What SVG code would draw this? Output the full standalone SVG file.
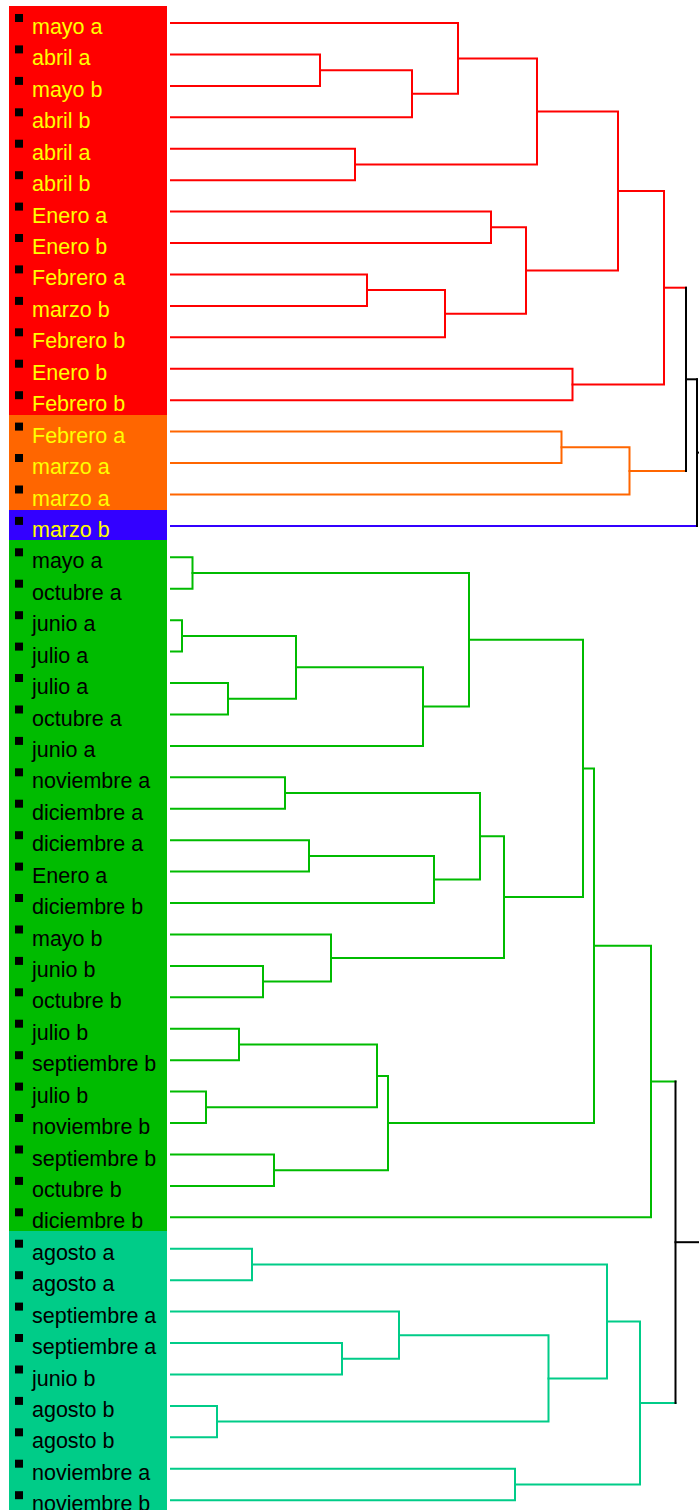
<svg xmlns="http://www.w3.org/2000/svg" width="699" height="1510" viewBox="0 0 699 1510">
<style>
.lbl{font-family:"Liberation Sans",Arial,sans-serif;font-size:21.5px}
.y{fill:#FFFF00}.k{fill:#000}
.b{fill:#000}
.c{fill:none;stroke-width:2;stroke-linejoin:miter;stroke-linecap:square}
.red{stroke:#FF0000}.org{stroke:#FF6600}.blu{stroke:#3300FF}.grn{stroke:#00BB00}.tea{stroke:#00CC88}.blk{stroke:#000}
</style>
<rect width="699" height="1510" fill="#fff"/>
<g id="panels">
<rect x="9" y="6" width="158" height="409" fill="#FF0000"/>
<rect x="9" y="415" width="158" height="95" fill="#FF6600"/>
<rect x="9" y="510" width="158" height="30" fill="#3300FF"/>
<rect x="9" y="540" width="158" height="691" fill="#00BB00"/>
<rect x="9" y="1231" width="158" height="279" fill="#00CC88"/>
</g>
<g id="connectors">
<g class="c red">
<path d="M171 54.4H320V85.9H171"/>
<path d="M320 70.2H412V117.3H171"/>
<path d="M171 23H458V93.8H412"/>
<path d="M171 148.7H355V180.2H171"/>
<path d="M458 58.4H537V164.5H355"/>
<path d="M171 211.6H491V243H171"/>
<path d="M171 274.4H367V305.9H171"/>
<path d="M367 290.1H445V337.3H171"/>
<path d="M491 227.3H526V313.7H445"/>
<path d="M537 111.4H618V270.5H526"/>
<path d="M171 368.7H572.5V400.2H171"/>
<path d="M618 191H664V384.5H572.5"/>
<path d="M664 287.7H686"/>
</g>
<g class="c org">
<path d="M171 431.6H561.5V463H171"/>
<path d="M561.5 447.3H629.5V494.5H171"/>
<path d="M629.5 470.9H686"/>
</g>
<path class="c blu" d="M171 525.9H697"/>
<g class="c blk">
<path d="M686 287.7V470.9"/>
<path d="M686 379.3H697"/>
<path d="M697 379.3V525.9"/>
<path d="M697 452.6H699"/>
</g>
<g class="c grn">
<path d="M171 557.3H192.5V588.7H171"/>
<path d="M171 620.2H182V651.6H171"/>
<path d="M171 683H228V714.5H171"/>
<path d="M182 635.9H296V698.8H228"/>
<path d="M296 667.3H423V745.9H171"/>
<path d="M192.5 573H469V706.6H423"/>
<path d="M171 777.3H285V808.7H171"/>
<path d="M171 840.2H309V871.6H171"/>
<path d="M309 855.9H434V903H171"/>
<path d="M285 793H480V879.5H434"/>
<path d="M171 965.9H263V997.3H171"/>
<path d="M171 934.5H331V981.6H263"/>
<path d="M480 836.2H504V958H331"/>
<path d="M469 639.8H583V897.1H504"/>
<path d="M171 1028.7H239V1060.2H171"/>
<path d="M171 1091.6H206V1123H171"/>
<path d="M239 1044.5H377V1107.3H206"/>
<path d="M171 1154.5H274V1185.9H171"/>
<path d="M377 1075.9H388V1170.2H274"/>
<path d="M583 768.5H594V1123H388"/>
<path d="M594 945.8H651V1217.3H171"/>
<path d="M651 1081.5H675.5"/>
</g>
<g class="c tea">
<path d="M171 1248.7H252V1280.2H171"/>
<path d="M171 1343H342V1374.5H171"/>
<path d="M171 1311.6H399V1358.8H342"/>
<path d="M171 1405.9H217V1437.3H171"/>
<path d="M399 1335.2H548.5V1421.6H217"/>
<path d="M252 1264.5H607V1378.4H548.5"/>
<path d="M171 1468.7H515V1500.2H171"/>
<path d="M607 1321.4H640V1484.5H515"/>
<path d="M640 1402.9H675.5"/>
</g>
<g class="c blk">
<path d="M675.5 1081.5V1402.9"/>
<path d="M675.5 1242.2H699"/>
</g>
</g>
<g id="leaf-0"><rect class="b" x="15" y="14" width="8" height="8"/><text class="lbl y" x="32" y="34">mayo a</text></g>
<g id="leaf-1"><rect class="b" x="15" y="45.4" width="8" height="8"/><text class="lbl y" x="32" y="65.4">abril a</text></g>
<g id="leaf-2"><rect class="b" x="15" y="76.9" width="8" height="8"/><text class="lbl y" x="32" y="96.9">mayo b</text></g>
<g id="leaf-3"><rect class="b" x="15" y="108.3" width="8" height="8"/><text class="lbl y" x="32" y="128.3">abril b</text></g>
<g id="leaf-4"><rect class="b" x="15" y="139.7" width="8" height="8"/><text class="lbl y" x="32" y="159.7">abril a</text></g>
<g id="leaf-5"><rect class="b" x="15" y="171.2" width="8" height="8"/><text class="lbl y" x="32" y="191.2">abril b</text></g>
<g id="leaf-6"><rect class="b" x="15" y="202.6" width="8" height="8"/><text class="lbl y" x="32" y="222.6">Enero a</text></g>
<g id="leaf-7"><rect class="b" x="15" y="234" width="8" height="8"/><text class="lbl y" x="32" y="254">Enero b</text></g>
<g id="leaf-8"><rect class="b" x="15" y="265.4" width="8" height="8"/><text class="lbl y" x="32" y="285.4">Febrero a</text></g>
<g id="leaf-9"><rect class="b" x="15" y="296.9" width="8" height="8"/><text class="lbl y" x="32" y="316.9">marzo b</text></g>
<g id="leaf-10"><rect class="b" x="15" y="328.3" width="8" height="8"/><text class="lbl y" x="32" y="348.3">Febrero b</text></g>
<g id="leaf-11"><rect class="b" x="15" y="359.7" width="8" height="8"/><text class="lbl y" x="32" y="379.7">Enero b</text></g>
<g id="leaf-12"><rect class="b" x="15" y="391.2" width="8" height="8"/><text class="lbl y" x="32" y="411.2">Febrero b</text></g>
<g id="leaf-13"><rect class="b" x="15" y="422.6" width="8" height="8"/><text class="lbl y" x="32" y="442.6">Febrero a</text></g>
<g id="leaf-14"><rect class="b" x="15" y="454" width="8" height="8"/><text class="lbl y" x="32" y="474">marzo a</text></g>
<g id="leaf-15"><rect class="b" x="15" y="485.5" width="8" height="8"/><text class="lbl y" x="32" y="505.5">marzo a</text></g>
<g id="leaf-16"><rect class="b" x="15" y="516.9" width="8" height="8"/><text class="lbl y" x="32" y="536.9">marzo b</text></g>
<g id="leaf-17"><rect class="b" x="15" y="548.3" width="8" height="8"/><text class="lbl k" x="32" y="568.3">mayo a</text></g>
<g id="leaf-18"><rect class="b" x="15" y="579.7" width="8" height="8"/><text class="lbl k" x="32" y="599.7">octubre a</text></g>
<g id="leaf-19"><rect class="b" x="15" y="611.2" width="8" height="8"/><text class="lbl k" x="32" y="631.2">junio a</text></g>
<g id="leaf-20"><rect class="b" x="15" y="642.6" width="8" height="8"/><text class="lbl k" x="32" y="662.6">julio a</text></g>
<g id="leaf-21"><rect class="b" x="15" y="674" width="8" height="8"/><text class="lbl k" x="32" y="694">julio a</text></g>
<g id="leaf-22"><rect class="b" x="15" y="705.5" width="8" height="8"/><text class="lbl k" x="32" y="725.5">octubre a</text></g>
<g id="leaf-23"><rect class="b" x="15" y="736.9" width="8" height="8"/><text class="lbl k" x="32" y="756.9">junio a</text></g>
<g id="leaf-24"><rect class="b" x="15" y="768.3" width="8" height="8"/><text class="lbl k" x="32" y="788.3">noviembre a</text></g>
<g id="leaf-25"><rect class="b" x="15" y="799.7" width="8" height="8"/><text class="lbl k" x="32" y="819.7">diciembre a</text></g>
<g id="leaf-26"><rect class="b" x="15" y="831.2" width="8" height="8"/><text class="lbl k" x="32" y="851.2">diciembre a</text></g>
<g id="leaf-27"><rect class="b" x="15" y="862.6" width="8" height="8"/><text class="lbl k" x="32" y="882.6">Enero a</text></g>
<g id="leaf-28"><rect class="b" x="15" y="894" width="8" height="8"/><text class="lbl k" x="32" y="914">diciembre b</text></g>
<g id="leaf-29"><rect class="b" x="15" y="925.5" width="8" height="8"/><text class="lbl k" x="32" y="945.5">mayo b</text></g>
<g id="leaf-30"><rect class="b" x="15" y="956.9" width="8" height="8"/><text class="lbl k" x="32" y="976.9">junio b</text></g>
<g id="leaf-31"><rect class="b" x="15" y="988.3" width="8" height="8"/><text class="lbl k" x="32" y="1008.3">octubre b</text></g>
<g id="leaf-32"><rect class="b" x="15" y="1019.7" width="8" height="8"/><text class="lbl k" x="32" y="1039.7">julio b</text></g>
<g id="leaf-33"><rect class="b" x="15" y="1051.2" width="8" height="8"/><text class="lbl k" x="32" y="1071.2">septiembre b</text></g>
<g id="leaf-34"><rect class="b" x="15" y="1082.6" width="8" height="8"/><text class="lbl k" x="32" y="1102.6">julio b</text></g>
<g id="leaf-35"><rect class="b" x="15" y="1114" width="8" height="8"/><text class="lbl k" x="32" y="1134">noviembre b</text></g>
<g id="leaf-36"><rect class="b" x="15" y="1145.5" width="8" height="8"/><text class="lbl k" x="32" y="1165.5">septiembre b</text></g>
<g id="leaf-37"><rect class="b" x="15" y="1176.9" width="8" height="8"/><text class="lbl k" x="32" y="1196.9">octubre b</text></g>
<g id="leaf-38"><rect class="b" x="15" y="1208.3" width="8" height="8"/><text class="lbl k" x="32" y="1228.3">diciembre b</text></g>
<g id="leaf-39"><rect class="b" x="15" y="1239.7" width="8" height="8"/><text class="lbl k" x="32" y="1259.7">agosto a</text></g>
<g id="leaf-40"><rect class="b" x="15" y="1271.2" width="8" height="8"/><text class="lbl k" x="32" y="1291.2">agosto a</text></g>
<g id="leaf-41"><rect class="b" x="15" y="1302.6" width="8" height="8"/><text class="lbl k" x="32" y="1322.6">septiembre a</text></g>
<g id="leaf-42"><rect class="b" x="15" y="1334" width="8" height="8"/><text class="lbl k" x="32" y="1354">septiembre a</text></g>
<g id="leaf-43"><rect class="b" x="15" y="1365.5" width="8" height="8"/><text class="lbl k" x="32" y="1385.5">junio b</text></g>
<g id="leaf-44"><rect class="b" x="15" y="1396.9" width="8" height="8"/><text class="lbl k" x="32" y="1416.9">agosto b</text></g>
<g id="leaf-45"><rect class="b" x="15" y="1428.3" width="8" height="8"/><text class="lbl k" x="32" y="1448.3">agosto b</text></g>
<g id="leaf-46"><rect class="b" x="15" y="1459.7" width="8" height="8"/><text class="lbl k" x="32" y="1479.7">noviembre a</text></g>
<g id="leaf-47"><rect class="b" x="15" y="1491.2" width="8" height="8"/><text class="lbl k" x="32" y="1511.2">noviembre b</text></g>
</svg>
